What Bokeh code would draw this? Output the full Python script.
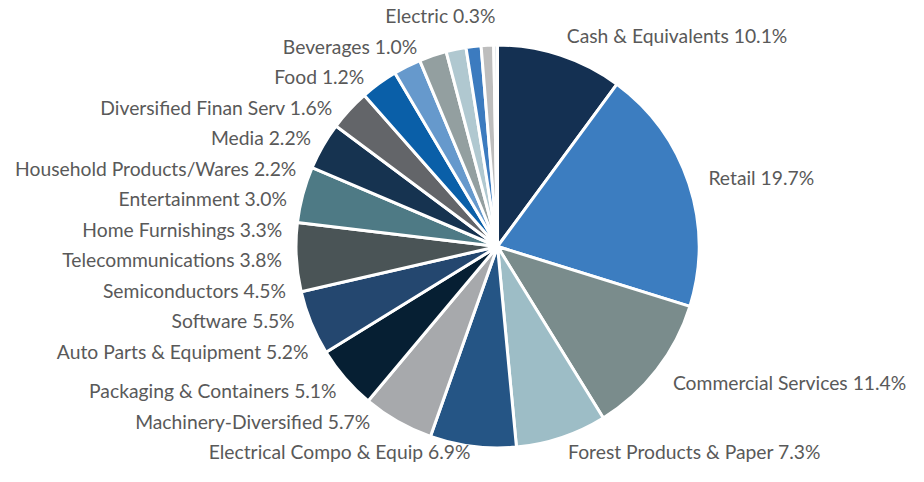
import numpy as np
from bokeh.plotting import figure
from bokeh.models import ColumnDataSource, Range1d
from bokeh.embed import file_html
from bokeh.resources import INLINE
from bokeh.core.properties import value

# ---------------- data ----------------
categories = ["Cash & Equivalents", "Retail", "Commercial Services", "Forest Products & Paper",
              "Electrical Compo & Equip", "Machinery-Diversified", "Packaging & Containers",
              "Auto Parts & Equipment", "Software", "Semiconductors", "Telecommunications",
              "Home Furnishings", "Entertainment", "Household Products/Wares", "Media",
              "Diversified Finan Serv", "Food", "Beverages", "Electric"]
percents = [10.1, 19.7, 11.4, 7.3, 6.9, 5.7, 5.1, 5.2, 5.5, 4.5, 3.8, 3.3, 3.0, 2.2, 2.2,
            1.6, 1.2, 1.0, 0.3]
colors = ["#143052", "#3C7DC0", "#7A8C8C", "#9DBDC6", "#255585", "#A7A9AC", "#061F33",
          "#24476F", "#4A5456", "#4E7A85", "#163350", "#636569", "#0A5FA8", "#6699CC",
          "#939FA0", "#B0C8D0", "#3C7BBF", "#BDBDBD", "#DDE4E9"]

# ---------------- layout constants ----------------
W, H = 908, 466
CX, CY = 497.0, 246.0        # pixel centre of the pie
R = 200.0
RL = 222.0                   # label radius
RLX = 216.0                  # radius used for x of shifted labels
TOP = 15.0
BOTTOM = 451.0
SPACING = 30.5
FONT = "Lato"
FSIZE = "19.3px"
TCOLOR = "#595959"

vals = np.array(percents, dtype=float)
frac = vals / vals.sum()
cum_end = np.cumsum(frac)
cum_start = cum_end - frac
start_ang = np.pi / 2 - 2 * np.pi * cum_start
end_ang = np.pi / 2 - 2 * np.pi * cum_end

p = figure(width=W, height=H, output_backend="svg", toolbar_location=None,
           x_range=Range1d(0, W), y_range=Range1d(-H, 0),
           min_border=0, background_fill_color="white", border_fill_color="white")
p.axis.visible = False
p.grid.visible = False
p.outline_line_color = None

src = ColumnDataSource(dict(x=[CX] * len(vals), y=[-CY] * len(vals),
                            start=start_ang, end=end_ang, color=colors))
p.wedge(x="x", y="y", radius=R + 1.5, start_angle="start", end_angle="end",
        direction="clock", fill_color="color", line_color="white", line_width=3,
        source=src)

# ---------------- labels ----------------
labels = [f"{c} {v:.1f}%" for c, v in zip(categories, percents)]
mid = 2 * np.pi * (cum_start + cum_end) / 2  # clockwise from top
nat_x = CX + RL * np.sin(mid)
nat_y = CY - RL * np.cos(mid)

rx, ry, rt = [], [], []
left_idx = []
for i in range(len(vals)):
    if mid[i] < np.pi:
        rx.append(nat_x[i]); ry.append(min(nat_y[i], BOTTOM)); rt.append(labels[i])
    else:
        left_idx.append(i)

# left labels ordered from top to bottom, spread to avoid overlap
order = left_idx[::-1]
ys = [nat_y[i] for i in order]
ys[-1] = min(ys[-1], BOTTOM)
for k in range(len(ys) - 2, -1, -1):
    ys[k] = min(ys[k], ys[k + 1] - SPACING)
ys[0] = max(ys[0], TOP)
for k in range(1, len(ys)):
    ys[k] = max(ys[k], ys[k - 1] + SPACING)

lx, ly, lt = [], [], []
for k, i in enumerate(order):
    y = ys[k]
    dy = y - CY
    if dy > 0.9 * RLX or abs(dy) >= RLX:
        x = nat_x[i]
    else:
        x = CX - np.sqrt(RLX ** 2 - dy ** 2)
    lx.append(x); ly.append(y); lt.append(labels[i])

p.text(x=rx, y=[-v for v in ry], text=rt, text_align="left", text_baseline="middle",
       text_font=value(FONT), text_font_size=FSIZE, text_color=TCOLOR)
p.text(x=lx, y=[-v for v in ly], text=lt, text_align="right", text_baseline="middle",
       text_font=value(FONT), text_font_size=FSIZE, text_color=TCOLOR)

open("out.html", "w").write(file_html(p, INLINE))
